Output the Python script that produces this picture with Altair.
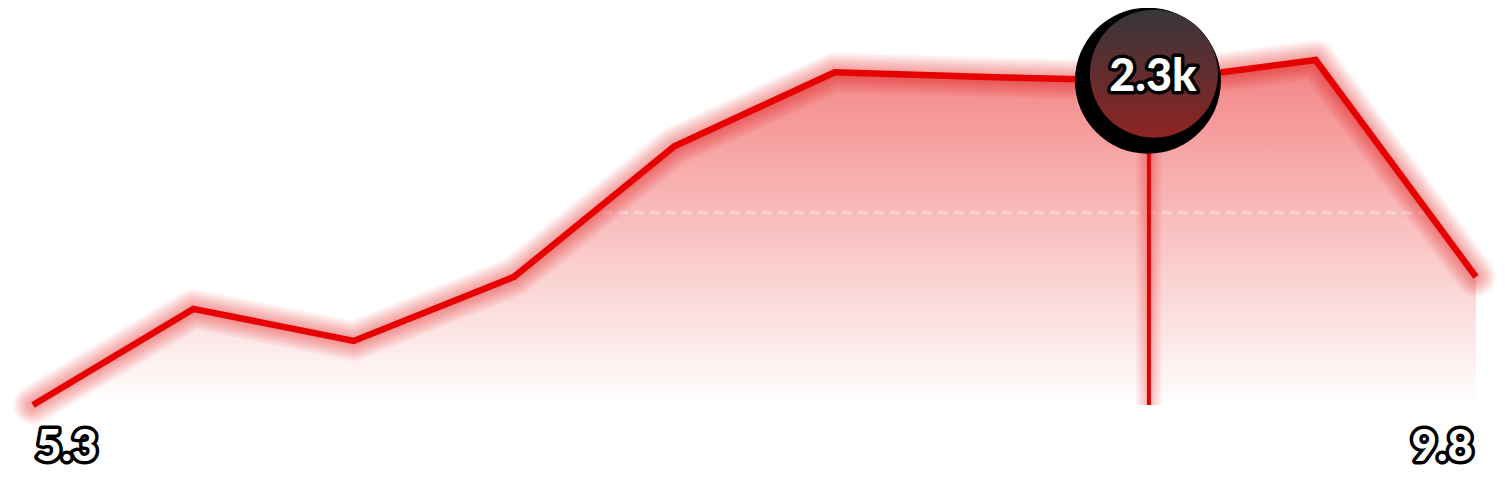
import altair as alt
import pandas as pd

# ── data
x_vals = [5.3, 5.8, 6.3, 6.8, 7.3, 7.8, 8.3, 8.8, 9.3, 9.8]
y_vals = [1.00, 1.39, 1.26, 1.52, 2.05, 2.35, 2.33, 2.315, 2.40, 1.52]
y_domain = [1.0, 2.4]
hover_x = [8.78]
hover_y = [2.32]
hover_text = ["2.3k"]
guide_y = [1.78]
end_labels = ["5.3", "9.8"]

RED = "#e60000"
FONT = "Lato"

df = pd.DataFrame({"x": x_vals, "y": y_vals})
df["base"] = y_domain[0]
df_hover = pd.DataFrame({"x": hover_x, "y": hover_y, "label": hover_text})
df_hover["base"] = y_domain[0]
df_guide = pd.DataFrame({"g": guide_y})

xs = alt.Scale(domain=[x_vals[0], x_vals[-1]], nice=False, zero=False)
ys = alt.Scale(domain=y_domain, nice=False, zero=False)
X = alt.X("x:Q", scale=xs, axis=None)
Y = alt.Y("y:Q", scale=ys, axis=None)

base = alt.Chart(df)

area = base.mark_area(
    fill=alt.Gradient(
        gradient="linear", x1=0, x2=0, y1=0, y2=1,
        stops=[alt.GradientStop(color="rgba(236,50,50,0.6)", offset=0),
               alt.GradientStop(color="rgba(236,50,50,0)", offset=1)]),
).encode(x=X, y=Y, y2="base:Q")

guide = alt.Chart(df_guide).mark_rule(
    color="white", strokeWidth=3, opacity=0.35, strokeDash=[10, 6]
).encode(y=alt.Y("g:Q", scale=ys, axis=None))

# fake glow: many wide faint copies under the line
glows = [
    base.mark_line(color=RED, strokeWidth=w, opacity=0.035, strokeJoin="round", strokeCap="round")
    .encode(x=X, y=Y)
    for w in range(40, 7, -3)
]
line = base.mark_line(color=RED, strokeWidth=6.5, strokeJoin="miter").encode(x=X, y=Y)

hb = alt.Chart(df_hover)
rule_glows = [
    hb.mark_rule(color=RED, strokeWidth=w, opacity=0.035).encode(x=X, y=Y, y2="base:Q")
    for w in range(26, 5, -3)
]
rule = hb.mark_rule(color=RED, strokeWidth=4).encode(x=X, y=Y, y2="base:Q")

# symbol size is the area of the bounding square
shadow = hb.mark_circle(color="black", opacity=1, size=146 ** 2).encode(
    x=X, y=Y, xOffset=alt.value(-1), yOffset=alt.value(1))
bubble = hb.mark_circle(
    opacity=1, size=128 ** 2,
    fill=alt.Gradient(
        gradient="linear", x1=0, x2=0, y1=0, y2=1,
        stops=[alt.GradientStop(color="#36363a", offset=0),
               alt.GradientStop(color="#8f2424", offset=1)]),
).encode(x=X, y=Y, xOffset=alt.value(5), yOffset=alt.value(-6))

txt_kw = dict(font=FONT, fontWeight=900, baseline="middle")
bub_outline = hb.mark_text(fontSize=45, align="center", dx=4, dy=-3, stroke="black",
                           strokeWidth=7, strokeJoin="round", fill="black", **txt_kw
                           ).encode(x=X, y=Y, text="label:N")
bub_text = hb.mark_text(fontSize=45, align="center", dx=4, dy=-3, fill="white", **txt_kw
                        ).encode(x=X, y=Y, text="label:N")


def end_label(xv, label, align, dx):
    d = alt.Chart(pd.DataFrame({"x": [xv], "y": [y_domain[0]], "label": [label]}))
    out = d.mark_text(fontSize=44, align=align, dx=dx, dy=43, stroke="black", strokeWidth=7,
                      strokeJoin="round", fill="black", **txt_kw).encode(x=X, y=Y, text="label:N")
    inner = d.mark_text(fontSize=44, align=align, dx=dx, dy=43, fill="white", **txt_kw
                        ).encode(x=X, y=Y, text="label:N")
    return [out, inner]


labels = end_label(x_vals[0], end_labels[0], "left", 3) + end_label(x_vals[-1], end_labels[1], "right", -3)

chart = alt.layer(
    area, guide, *glows, line, *rule_glows, rule, shadow, bubble, bub_outline, bub_text, *labels
).properties(
    width=1443, height=345,
    autosize="none",
    padding={"left": 25, "top": 52, "right": 21, "bottom": 68},
    background="white",
).configure_view(stroke=None)

chart.save("out.html", embed_options={"renderer": "svg", "actions": False})
